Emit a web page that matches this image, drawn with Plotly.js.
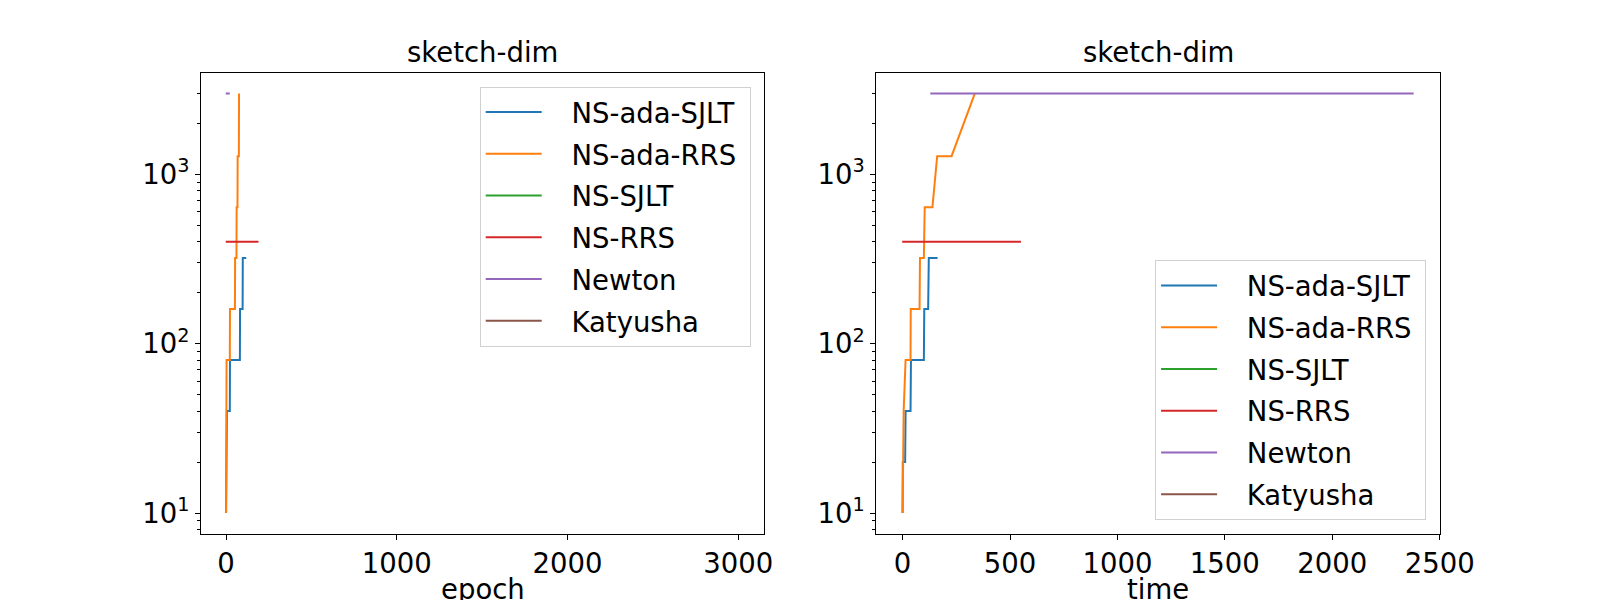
<!DOCTYPE html>
<html>
<head>
<meta charset="utf-8">
<script src="https://cdn.plot.ly/plotly-3.0.1.min.js"></script>
<style>
  html, body { margin: 0; padding: 0; background: #fff; }
  #plot { width: 1600px; height: 600px; }
</style>
</head>
<body>
<div id="plot"></div>
<script>
// Series names and matplotlib tab10 colours
var methods = ['NS-ada-SJLT', 'NS-ada-RRS', 'NS-SJLT', 'NS-RRS', 'Newton', 'Katyusha'];
var colors = ['#1f77b4', '#ff7f0e', '#2ca02c', '#d62728', '#9467bd', '#8c564b'];

// sketch dimension per recorded point
var adaSjltDim = [10, 20, 20, 40, 40, 80, 80, 160, 160, 320, 320];
var adaSjltEpoch = [0, 0.5, 4, 5, 22, 23, 81, 82, 97, 98, 118];
var adaSjltTime = [0, 1, 12, 14, 37, 39, 99, 101, 119, 122, 163];

var adaRrsDim = [10, 20, 40, 80, 80, 160, 160, 320, 320, 640, 640, 1280, 1280, 3000];
var adaRrsEpoch = [0, 1, 2, 3, 22, 23, 52, 53, 61, 62, 67, 68, 75, 76];
var adaRrsTime = [0, 3, 5, 14, 37, 38, 79, 81, 99, 103, 139, 161, 228, 336];

// NS-SJLT and Katyusha have no sketch dim to show on the log axis
var sjltDim = [null, null];
var sjltEpoch = [0, 3000];
var sjltTime = [0, 2380];

var rrsDim = [400, 400];
var rrsEpoch = [-2, 190];
var rrsTime = [-2, 551];

var newtonDim = [3000, 3000];
var newtonEpoch = [-2, 22];
var newtonTime = [129, 2379];

var katyushaDim = [null, null];
var katyushaEpoch = [0, 3000];
var katyushaTime = [0, 2380];

var yTickVals = [10, 100, 1000];
var yTickText = ['10<sup>1</sup>', '10<sup>2</sup>', '10<sup>3</sup>'];
var minorMultiples = [2, 3, 4, 5, 6, 7, 8, 9];
var decades = [1, 10, 100, 1000];

var dims = [adaSjltDim, adaRrsDim, sjltDim, rrsDim, newtonDim, katyushaDim];
var epochs = [adaSjltEpoch, adaRrsEpoch, sjltEpoch, rrsEpoch, newtonEpoch, katyushaEpoch];
var times = [adaSjltTime, adaRrsTime, sjltTime, rrsTime, newtonTime, katyushaTime];

var minorVals = [];
decades.forEach(function(d) {
    minorMultiples.forEach(function(m) { minorVals.push(d * m); });
});

var FONT = 'DejaVu Sans, sans-serif';
var FS = 27.5;

// pad the legend text away from the line sample, like matplotlib does
var PAD_L = '\u2002\u2009\u2009';
var PAD_R = '\u2009\u200A';

var traces = [];
methods.forEach(function(name, i) {
    traces.push({
        x: epochs[i], y: dims[i], name: PAD_L + name + PAD_R,
        type: 'scatter', mode: 'lines',
        line: { color: colors[i], width: 2 },
        xaxis: 'x', yaxis: 'y', legend: 'legend',
        legendgroup: 'a' + i
    });
});
methods.forEach(function(name, i) {
    traces.push({
        x: times[i], y: dims[i], name: PAD_L + name + PAD_R,
        type: 'scatter', mode: 'lines',
        line: { color: colors[i], width: 2 },
        xaxis: 'x2', yaxis: 'y2', legend: 'legend2',
        legendgroup: 'b' + i
    });
});

function xAxis(domain, range, dtick, anchor) {
    return {
        domain: domain, range: range, dtick: dtick, tick0: 0, anchor: anchor,
        showgrid: false, zeroline: false,
        showline: true, mirror: true, linecolor: '#000', linewidth: 1,
        ticks: 'outside', ticklen: 5, tickwidth: 1, tickcolor: '#000',
        tickfont: { family: FONT, size: FS, color: '#000' }
    };
}

function yAxis(anchor) {
    return {
        type: 'log', domain: [0.11, 0.8788], range: [0.876, 3.600], anchor: anchor,
        tickmode: 'array', tickvals: yTickVals, ticktext: yTickText,
        showgrid: false, zeroline: false,
        showline: true, mirror: true, linecolor: '#000', linewidth: 1,
        ticks: 'outside', ticklen: 5, tickwidth: 1, tickcolor: '#000',
        tickfont: { family: FONT, size: FS, color: '#000' },
        minor: { tickmode: 'array', tickvals: minorVals, ticks: 'outside', ticklen: 3,
                 tickwidth: 1, tickcolor: '#000', showgrid: false }
    };
}

function legendBox(x, y, yanchor) {
    return {
        x: x, y: y, xanchor: 'right', yanchor: yanchor,
        bgcolor: 'rgba(255,255,255,0.8)', bordercolor: '#d0d0d0', borderwidth: 1,
        font: { family: FONT, size: FS, color: '#000' },
        tracegroupgap: 3, itemwidth: 56, traceorder: 'grouped'
    };
}

var labelFont = { family: FONT, size: FS, color: '#000' };

var layout = {
    width: 1600, height: 600,
    margin: { l: 0, r: 0, t: 0, b: 0 },
    paper_bgcolor: '#fff', plot_bgcolor: '#fff',
    showlegend: true,
    xaxis: xAxis([0.1256, 0.4777], [-147, 3153], 1000, 'y'),
    yaxis: yAxis('x'),
    xaxis2: xAxis([0.5476, 0.9002], [-123, 2503], 500, 'y2'),
    yaxis2: yAxis('x2'),
    legend: legendBox(0.4692, 0.8555, 'top'),
    legend2: legendBox(0.8913, 0.1333, 'bottom'),
    annotations: [
        { text: 'sketch-dim', x: 0.3016, y: 0.8833, xref: 'paper', yref: 'paper',
          xanchor: 'center', yanchor: 'bottom', showarrow: false, font: labelFont },
        { text: 'sketch-dim', x: 0.7239, y: 0.8833, xref: 'paper', yref: 'paper',
          xanchor: 'center', yanchor: 'bottom', showarrow: false, font: labelFont },
        { text: 'epoch', x: 0.3016, y: -0.012, xref: 'paper', yref: 'paper',
          xanchor: 'center', yanchor: 'bottom', showarrow: false, font: labelFont },
        { text: 'time', x: 0.7239, y: -0.012, xref: 'paper', yref: 'paper',
          xanchor: 'center', yanchor: 'bottom', showarrow: false, font: labelFont }
    ]
};

Plotly.newPlot('plot', traces, layout, { displayModeBar: false, staticPlot: true });
</script>
</body>
</html>
